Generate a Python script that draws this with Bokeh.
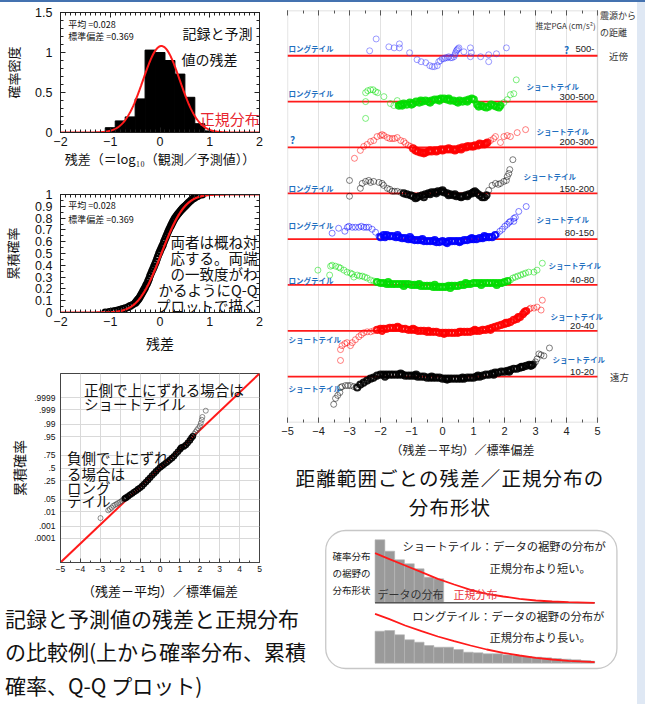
import numpy as np
from statistics import NormalDist
from bokeh.plotting import figure
from bokeh.layouts import row, column
from bokeh.models import (Range1d, LinearAxis, FixedTicker, Label, Div, BoxAnnotation,
                          Slope, CustomJSTickFormatter)
from bokeh.embed import file_html
from bokeh.resources import INLINE

JP = "Noto Sans CJK JP"
NUM = "Liberation Sans"

# ---------------- data ----------------
MEAN = 0.028
SD = 0.369
HIST_EDGES = [-1.1, -0.9, -0.7, -0.5, -0.3, -0.1, 0.1, 0.3, 0.5, 0.7, 0.9, 1.1]
HIST_DENS = [0.06, 0.145, 0.195, 0.42, 1.03, 1.0, 0.90, 0.73, 0.44, 0.11, 0.02]

ECDF = [(-1.10, 0.00), (-1.02, 0.005), (-0.95, 0.01), (-0.90, 0.013), (-0.85, 0.018), (-0.80, 0.024),
        (-0.75, 0.03), (-0.70, 0.037), (-0.65, 0.045), (-0.60, 0.055), (-0.55, 0.065), (-0.50, 0.08),
        (-0.48, 0.09), (-0.46, 0.10), (-0.44, 0.11), (-0.42, 0.12), (-0.40, 0.135), (-0.38, 0.15),
        (-0.36, 0.165), (-0.34, 0.18), (-0.32, 0.195), (-0.30, 0.21), (-0.28, 0.23), (-0.26, 0.245),
        (-0.24, 0.265), (-0.22, 0.285), (-0.20, 0.31), (-0.18, 0.33), (-0.16, 0.35), (-0.14, 0.37),
        (-0.12, 0.39), (-0.10, 0.41), (-0.08, 0.43), (-0.06, 0.455), (-0.04, 0.478), (-0.02, 0.50),
        (0.00, 0.52), (0.02, 0.54), (0.04, 0.558), (0.06, 0.575), (0.08, 0.60), (0.10, 0.62), (0.12, 0.64),
        (0.14, 0.66), (0.16, 0.68), (0.18, 0.70), (0.20, 0.718), (0.22, 0.735), (0.24, 0.752), (0.26, 0.77),
        (0.28, 0.785), (0.30, 0.80), (0.325, 0.815), (0.35, 0.83), (0.375, 0.843), (0.40, 0.855),
        (0.425, 0.868), (0.45, 0.88), (0.475, 0.89), (0.50, 0.90), (0.525, 0.91), (0.55, 0.92),
        (0.575, 0.93), (0.60, 0.94), (0.625, 0.95), (0.65, 0.96), (0.675, 0.968), (0.70, 0.975),
        (0.75, 0.985), (0.80, 0.995), (0.85, 1.0)]

QQ = [(-2.99, -2.65), (-2.60, -2.24), (-2.52, -2.17), (-2.43, -2.10), (-2.35, -2.00), (-2.26, -1.95),
      (-2.18, -1.90), (-2.10, -1.85), (-2.01, -1.80), (-1.93, -1.74), (-1.85, -1.68), (-1.77, -1.62),
      (-1.70, -1.57), (-1.60, -1.50), (-1.50, -1.42), (-1.40, -1.35), (-1.30, -1.27), (-1.20, -1.20),
      (-1.10, -1.12), (-1.00, -1.05), (-0.90, -0.96), (-0.80, -0.85), (-0.70, -0.74), (-0.60, -0.63),
      (-0.50, -0.52), (-0.40, -0.40), (-0.30, -0.29), (-0.20, -0.18), (-0.10, -0.08), (0.00, 0.02),
      (0.10, 0.10), (0.20, 0.18), (0.30, 0.26), (0.40, 0.34), (0.50, 0.43), (0.60, 0.52), (0.70, 0.62),
      (0.80, 0.74), (0.90, 0.86), (1.00, 0.98), (1.05, 1.06), (1.10, 1.10), (1.20, 1.14), (1.30, 1.22),
      (1.40, 1.33), (1.50, 1.46), (1.58, 1.58), (1.65, 1.68), (1.72, 1.80), (1.78, 1.90), (1.85, 2.00),
      (1.92, 2.10), (2.00, 2.22), (2.05, 2.38), (2.10, 2.55), (2.13, 2.70), (2.30, 3.03)]
Q_PROBS = [0.0001, 0.001, 0.01, 0.05, 0.25, 0.5, 0.75, 0.95, 0.99, 0.999, 0.9999]
Q_LABELS = [".0001", ".001", ".01", ".05", ".25", ".5", ".75", ".95", ".99", ".999", ".9999"]

# residual deviation per distance range: (normalized residual, deviation)
G500 = [(-2.35, 5), (-2.14, 17), (-1.73, 9), (-1.56, 8), (-1.39, 8), (-1.39, 12), (-1.06, 3), (-0.82, -4),
        (-0.69, -6), (-0.54, -7), (-0.41, -10), (-0.33, -11), (-0.26, -11), (-0.17, -10), (-0.12, -6),
        (-0.07, -5), (-0.01, -3), (0.05, -3), (0.10, -2), (0.16, -2), (0.20, -1), (0.26, -2), (0.31, -2),
        (0.37, -1), (0.40, 1), (0.42, 3), (0.45, 5), (0.47, 6), (0.50, 7), (0.53, 8), (0.69, 4), (0.90, 8),
        (0.93, 3), (0.90, -1), (1.23, -1), (1.49, 1), (1.49, -6), (1.74, 2), (2.06, 8)]
G300 = [(-2.48, -17), (-2.48, 0), (-2.48, 9), (-2.41, 11), (-2.32, 12), (-2.24, 12), (-2.16, 10), (-2.09, 9),
        (-1.89, 5), (-1.68, -2), (-1.57, -4), (-1.46, 1), (-1.41, -4), (-1.35, -3), (-1.30, -4), (-1.25, -2),
        (-1.15, -3), (-1.05, -1), (-1.00, -3), (-0.95, -2), (-0.85, 0), (-0.75, -1), (-0.70, 1), (-0.65, 0),
        (-0.55, 1), (-0.45, 0), (-0.40, -1), (-0.35, 1), (-0.25, 2), (-0.15, 2), (-0.10, 1), (-0.05, 3),
        (0.05, 3), (0.15, 2), (0.20, 3), (0.25, 1), (0.35, 1), (0.45, 0), (0.50, -1), (0.55, 1), (0.65, 0),
        (0.75, 1), (0.80, 0), (0.85, 2), (0.95, 3), (1.01, 2), (1.12, -3), (1.17, -5), (1.25, -4), (1.33, -5),
        (1.41, -6), (1.49, -5), (1.57, -3), (1.66, -4), (1.74, -5), (1.82, -6), (1.87, -4), (1.98, -1),
        (2.09, 2), (2.19, 7), (2.30, 8), (2.38, 22)]
G200 = [(-2.84, -11), (-2.65, -3), (-2.54, 1), (-2.43, 3), (-2.32, 6), (-2.22, 7), (-2.11, 11), (-2.00, 12),
        (-1.95, 13), (-1.89, 12), (-1.78, 10), (-1.70, 9), (-1.62, 9), (-1.55, 9), (-1.46, 10), (-1.35, 7),
        (-1.25, 6), (-1.19, 4), (-1.10, 2), (-1.03, 1), (-0.95, -1), (-0.87, -3), (-0.80, -4), (-0.71, -5),
        (-0.65, -5), (-0.60, -6), (-0.55, -5), (-0.45, -4), (-0.40, -3), (-0.35, -4), (-0.25, -3), (-0.20, -4),
        (-0.15, -3), (-0.05, -2), (0.00, -3), (0.05, -2), (0.15, -2), (0.20, -1), (0.25, -2), (0.35, -2),
        (0.40, -3), (0.45, -2), (0.55, -1), (0.60, -2), (0.65, 0), (0.75, 0), (0.80, 1), (0.85, 1), (0.95, 1),
        (1.00, 1), (1.05, 2), (1.15, 2), (1.20, 4), (1.25, 3), (1.35, 3), (1.40, 4), (1.45, 5), (1.55, 7),
        (1.65, 9), (1.71, 11), (1.87, 5), (1.98, 11), (2.09, 12), (2.19, 11), (2.41, 15), (2.68, 18)]
G150 = [(-3.00, 13), (-3.00, -3), (-2.65, 5), (-2.59, 10), (-2.48, 12), (-2.38, 13), (-2.32, 11), (-2.22, 12),
        (-2.05, 11), (-1.95, 10), (-1.90, 8), (-1.78, 5), (-1.70, 4), (-1.62, 2), (-1.55, 2), (-1.46, 2),
        (-1.35, 1), (-1.25, 0), (-1.15, -1), (-1.03, -2), (-0.95, -3), (-0.87, -5), (-0.82, -4), (-0.75, -3),
        (-0.65, -2), (-0.60, -4), (-0.55, -1), (-0.45, 0), (-0.40, -1), (-0.35, 1), (-0.25, 1), (-0.20, 0),
        (-0.15, 2), (-0.05, 2), (0.00, 3), (0.05, 1), (0.15, 0), (0.20, -2), (0.25, -1), (0.35, -2), (0.40, -1),
        (0.45, -3), (0.55, -3), (0.60, -4), (0.65, -3), (0.75, -2), (0.80, -3), (0.85, -1), (0.95, 0), (1.00, 1),
        (1.05, 2), (1.12, 0), (1.20, -2), (1.28, -4), (1.35, -4), (1.42, -2), (1.49, 3), (1.60, 8), (1.71, 10),
        (1.80, 9), (1.87, 10), (1.98, 12), (2.06, 13), (2.09, 17), (2.14, 20), (2.17, 24), (2.27, 34)]
G80 = [(-3.56, 6), (-3.35, 11), (-3.15, 8), (-3.07, 12), (-3.02, 13), (-2.91, 12), (-2.81, 12), (-2.70, 12),
       (-2.62, 13), (-2.54, 12), (-2.46, 12), (-2.38, 12), (-2.27, 10), (-2.16, 7), (-2.05, 3), (-2.00, 2),
       (-1.90, 4), (-1.85, 2), (-1.80, 4), (-1.70, 3), (-1.60, 3), (-1.50, 2), (-1.45, 4), (-1.40, 2), (-1.30, 1),
       (-1.20, 1), (-1.10, 0), (-1.05, 2), (-1.00, 0), (-0.90, -1), (-0.80, -1), (-0.70, -1), (-0.65, 0),
       (-0.60, -2), (-0.50, -2), (-0.40, -2), (-0.30, -2), (-0.25, -1), (-0.20, -3), (-0.10, -3), (0.00, -2),
       (0.10, -3), (0.15, -4), (0.20, -2), (0.30, -2), (0.40, -2), (0.50, -2), (0.55, -3), (0.60, -2), (0.70, -1),
       (0.80, -1), (0.90, 0), (0.95, 1), (1.00, 0), (1.10, 0), (1.20, 1), (1.30, 1), (1.35, 3), (1.40, 2),
       (1.50, 2), (1.60, 2), (1.70, 4), (1.76, 5), (1.85, 8), (1.93, 10), (2.01, 13), (2.09, 15), (2.15, 17),
       (2.19, 18), (2.30, 21), (2.30, 18), (2.35, 22), (2.46, 28), (2.70, 33)]
G40 = [(-4.02, 15), (-3.64, 10), (-3.61, 19), (-3.56, 20), (-3.45, 19), (-3.35, 18), (-3.29, 17), (-3.18, 15),
       (-3.08, 13), (-2.97, 12), (-2.91, 11), (-2.86, 8), (-2.75, 10), (-2.67, 9), (-2.59, 9), (-2.51, 8),
       (-2.43, 7), (-2.32, 5), (-2.22, 4), (-2.11, 3), (-2.00, 2), (-1.90, 2), (-1.80, 1), (-1.75, 3), (-1.70, 1),
       (-1.60, 1), (-1.50, 1), (-1.40, 1), (-1.30, 1), (-1.25, -1), (-1.20, 1), (-1.10, 1), (-1.00, 0),
       (-0.90, 0), (-0.80, 0), (-0.75, 1), (-0.70, -1), (-0.60, -1), (-0.50, -1), (-0.40, -1), (-0.30, -2),
       (-0.25, 0), (-0.20, -2), (-0.10, -2), (0.00, -2), (0.10, -2), (0.20, -1), (0.25, -3), (0.30, -1),
       (0.40, -1), (0.50, -1), (0.60, 0), (0.70, 0), (0.75, 2), (0.80, 1), (0.90, 1), (1.00, 2), (1.10, 2),
       (1.20, 2), (1.25, 0), (1.30, 2), (1.40, 2), (1.50, 2), (1.60, 2), (1.70, 2), (1.75, 0), (1.80, 2),
       (1.90, 2), (2.00, 3), (2.10, 4), (2.19, 5), (2.27, 7), (2.35, 8), (2.43, 9), (2.52, 10), (2.60, 11),
       (2.68, 12), (2.78, 13), (2.95, 13), (3.05, 15), (3.22, 22)]
G20 = [(-3.29, -30), (-3.29, -19), (-3.24, -15), (-3.15, -13), (-3.08, -12), (-2.97, -15), (-2.91, -12),
       (-2.81, -9), (-2.70, -6), (-2.62, -4), (-2.54, -2), (-2.43, -1), (-2.32, -1), (-2.22, 0), (-2.11, 1),
       (-2.00, 2), (-1.95, 0), (-1.90, 2), (-1.80, 2), (-1.70, 3), (-1.60, 3), (-1.50, 3), (-1.45, 4), (-1.40, 3),
       (-1.30, 2), (-1.20, 2), (-1.10, 1), (-1.00, 1), (-0.95, 2), (-0.90, 1), (-0.80, 0), (-0.70, 0), (-0.60, 0),
       (-0.50, -1), (-0.45, 0), (-0.40, -1), (-0.30, -1), (-0.20, -1), (-0.10, -2), (0.00, -2), (0.05, -3),
       (0.10, -2), (0.20, -2), (0.30, -2), (0.40, -2), (0.50, -2), (0.55, -1), (0.60, -1), (0.70, -1), (0.80, -1),
       (0.90, -1), (1.00, 0), (1.05, 1), (1.10, 0), (1.20, 0), (1.30, 1), (1.40, 1), (1.50, 2), (1.55, 1),
       (1.60, 3), (1.70, 4), (1.80, 5), (1.90, 6), (2.00, 7), (2.05, 8), (2.10, 8), (2.20, 9), (2.30, 11),
       (2.40, 12), (2.45, 14), (2.50, 14), (2.60, 17), (2.65, 19), (2.70, 20), (2.80, 22), (2.84, 23), (2.95, 23),
       (3.05, 24), (3.18, 21), (3.22, 31)]
G10 = [(-3.51, -28), (-3.45, -22), (-3.38, -19), (-3.31, -16), (-3.29, -11), (-3.24, -10), (-3.13, -9),
       (-3.05, -9), (-2.97, -9), (-2.86, -10), (-2.75, -11), (-2.65, -8), (-2.54, -6), (-2.43, -4), (-2.32, -2),
       (-2.22, -1), (-2.11, 1), (-2.00, 2), (-1.90, 2), (-1.85, 0), (-1.80, 2), (-1.70, 2), (-1.60, 2), (-1.50, 2),
       (-1.40, 2), (-1.35, 3), (-1.30, 2), (-1.20, 1), (-1.10, 1), (-1.00, 1), (-0.90, 1), (-0.85, 2), (-0.80, 0),
       (-0.70, 0), (-0.60, 0), (-0.50, -1), (-0.40, -1), (-0.35, 0), (-0.30, -1), (-0.20, -1), (-0.10, -1),
       (0.00, -2), (0.10, -2), (0.15, -3), (0.20, -2), (0.30, -2), (0.40, -2), (0.50, -2), (0.60, -2), (0.65, -1),
       (0.70, -2), (0.80, -1), (0.90, -1), (1.00, -1), (1.10, 0), (1.15, 1), (1.20, 0), (1.30, 1), (1.40, 2),
       (1.50, 2), (1.60, 3), (1.65, 2), (1.70, 4), (1.80, 4), (1.90, 5), (2.00, 5), (2.10, 6), (2.15, 5),
       (2.20, 7), (2.30, 8), (2.40, 8), (2.50, 9), (2.55, 10), (2.60, 10), (2.70, 11), (2.80, 12), (2.85, 11),
       (2.90, 12), (2.95, 13), (3.00, 15), (3.05, 18), (3.11, 23), (3.18, 22), (3.27, 21), (3.45, 29)]

GROUP_NAMES = ["500-", "300-500", "200-300", "150-200", "80-150", "40-80", "20-40", "10-20"]
GROUP_DATA = [G500, G300, G200, G150, G80, G40, G20, G10]
LEFT_TAGS = ["ロングテイル", "ロングテイル", "?", "ロングテイル", "ロングテイル", "ロングテイル", "ショートテイル", "ショートテイル"]
RIGHT_TAGS = ["?", "ショートテイル", "ショートテイル", "ショートテイル", "ショートテイル", "ショートテイル", "ショートテイル", "ショートテイル"]

# explanatory sketch (bottom-right box)
SHORT_BARS = [6.3, 5.16, 4.3, 3.9, 3.4, 2.56, 2.4]
LONG_BARS = [3.2, 3.27, 2.84, 2.34, 2.1, 1.77, 1.6, 1.6, 1.37, 1.1, 1.04, 0.94, 0.94, 0.84, 0.77, 0.67,
             0.6, 0.54, 0.47, 0.4, 0.34, 0.27, 0.2]
CURVE_X = [0, 1.4, 3.07, 4.74, 6.4, 8.07, 9.74, 11.4, 13.07, 14.74, 16.4, 18.07, 19.74, 22.4]
SHORT_CURVE = [4.96, 4.4, 3.73, 3.06, 2.4, 1.83, 1.3, 0.9, 0.63, 0.4, 0.23, 0.13, 0.07, 0.0]
LONG_CURVE = [4.94, 4.44, 3.77, 3.2, 2.67, 2.2, 1.77, 1.37, 1.04, 0.77, 0.54, 0.37, 0.24, 0.1]

OVERFLOW_CSS = ":host { overflow: visible !important; } div { overflow: visible !important; }"


# ---------------- helpers ----------------
def base_fig(w, h, xr, yr, bl, br, bt, bb, **kw):
    p = figure(width=w, height=h, x_range=Range1d(*xr), y_range=Range1d(*yr),
               output_backend="svg", toolbar_location=None,
               min_border_left=bl, min_border_right=br, min_border_top=bt, min_border_bottom=bb, **kw)
    p.background_fill_color = "white"
    p.border_fill_color = "white"
    p.xgrid.visible = False
    p.ygrid.visible = False
    p.outline_line_color = "#222"
    return p


def ticks_in(ax, color="#222", major=5, minor=3):
    ax.major_tick_in = major
    ax.major_tick_out = 0
    ax.minor_tick_in = minor
    ax.minor_tick_out = 0
    ax.axis_line_color = color
    ax.major_tick_line_color = color
    ax.minor_tick_line_color = color


def style_axis(ax, fs, lfs, std, lstd, color="#111"):
    ax.major_label_text_font = NUM
    ax.major_label_text_font_size = fs
    ax.major_label_text_color = color
    ax.axis_label_text_font = JP
    ax.axis_label_text_font_size = lfs
    ax.axis_label_text_font_style = "normal"
    ax.axis_label_text_color = color
    ax.major_label_standoff = std
    ax.axis_label_standoff = lstd


def mirror_axis(p, ticker, loc, color="#222"):
    ax = LinearAxis(ticker=ticker, formatter=CustomJSTickFormatter(code="return ''"))
    ax.major_label_text_font_size = "1px"
    ax.major_label_standoff = 0
    ticks_in(ax, color)
    p.add_layout(ax, loc)
    return ax


def lab(p, x, y, text, size, color="#111", font=JP, align="left", style="normal"):
    p.add_layout(Label(x=x, y=y, text=text, text_font_size=size, text_color=color, text_font=font,
                       text_align=align, text_baseline="middle", text_font_style=style))


RED = "#ff1a1a"

# ---------------- histogram ----------------
hist = base_fig(280, 168, (-2, 2), (0, 1.5), 60, 16, 10, 38)
hx = FixedTicker(ticks=[-2, -1, 0, 1, 2], minor_ticks=[round(-2 + 0.1 * i, 1) for i in range(41)])
hy = FixedTicker(ticks=[0, 0.5, 1, 1.5], minor_ticks=[round(0.1 * i, 1) for i in range(16)])
hist.xaxis.ticker = hx
hist.yaxis.ticker = hy
hist.yaxis.major_label_overrides = {0: "0", 1: "1"}
ticks_in(hist.xaxis[0]); ticks_in(hist.yaxis[0])
style_axis(hist.xaxis[0], "12.5px", "13px", 4, 0)
style_axis(hist.yaxis[0], "12.5px", "13px", 8, 9)
hist.xaxis.axis_label = "残差（＝log₁₀（観測／予測値））"
hist.yaxis.axis_label = "確率密度"
mirror_axis(hist, hx, "above")
mirror_axis(hist, hy, "right")
hist.quad(left=HIST_EDGES[:-1], right=HIST_EDGES[1:], bottom=0, top=HIST_DENS,
          fill_color="black", line_color="black")
nd = NormalDist(MEAN, SD)
xs = np.linspace(-2, 2, 401)
hist.line(xs, [nd.pdf(v) for v in xs], line_color=RED, line_width=2)
lab(hist, -1.843, 1.35, f"平均 ={MEAN:.3f}", "9px")
lab(hist, -1.843, 1.20, f"標準偏差 ={SD:.3f}", "9px")
lab(hist, 0.451, 1.25, "記録と予測", "14px")
lab(hist, 0.431, 0.925, "値の残差", "14px")
lab(hist, 0.80, 0.175, "正規分布", "15px", color="#e8252f")

# ---------------- cumulative ----------------
cdf = base_fig(280, 185, (-2, 2), (0, 1), 60, 16, 24, 40)
cx = FixedTicker(ticks=[-2, -1, 0, 1, 2], minor_ticks=[round(-2 + 0.1 * i, 1) for i in range(41)])
cy = FixedTicker(ticks=[round(0.1 * i, 1) for i in range(11)], minor_ticks=[round(0.05 * i, 2) for i in range(21)])
cdf.xaxis.ticker = cx
cdf.yaxis.ticker = cy
cdf.yaxis.major_label_overrides = {0: "0", 1: "1"}
ticks_in(cdf.xaxis[0]); ticks_in(cdf.yaxis[0])
style_axis(cdf.xaxis[0], "12.5px", "14px", 4, 4)
style_axis(cdf.yaxis[0], "12.5px", "13px", 8, 10)
cdf.xaxis.axis_label = "残差"
cdf.yaxis.axis_label = "累積確率"
mirror_axis(cdf, cx, "above")
mirror_axis(cdf, cy, "right")
cdf.scatter([p[0] for p in ECDF], [p[1] for p in ECDF], marker="circle", size=6,
            fill_color=None, line_color="black", line_width=1.8)
cdf.line(xs, [nd.cdf(v) for v in xs], line_color=RED, line_width=2.2)
lab(cdf, -1.843, 0.909, f"平均 ={MEAN:.3f}", "9px")
lab(cdf, -1.843, 0.785, f"標準偏差 ={SD:.3f}", "9px")
for txt, yy in zip(["両者は概ね対", "応する。両端", "の一致度がわ", "かるようにQ-Q", "プロットで描く"],
                   [0.603, 0.467, 0.331, 0.194, 0.058]):
    lab(cdf, 1.96, yy, txt, "14.5px", align="right")

# ---------------- Q-Q ----------------
qq = base_fig(280, 247, (-5, 5), (-5, 5), 58, 21, 18, 30)
qq.outline_line_color = "#444"
std_norm = NormalDist()
q_ticks = [std_norm.inv_cdf(pr) for pr in Q_PROBS]
qx = FixedTicker(ticks=list(range(-5, 6)), minor_ticks=[-5 + 0.5 * i for i in range(21)])
qy = FixedTicker(ticks=q_ticks, minor_ticks=[])
qq.xaxis.ticker = qx
qq.yaxis.ticker = qy
qq.yaxis.major_label_overrides = {t: l for t, l in zip(q_ticks, Q_LABELS)}
ticks_in(qq.xaxis[0], "#444", 4, 2); ticks_in(qq.yaxis[0], "#444", 0, 0)
style_axis(qq.xaxis[0], "8.5px", "13px", 3, 6)
style_axis(qq.yaxis[0], "8.5px", "14px", 5, 2)
qq.xaxis.axis_label = "（残差－平均）／標準偏差"
qq.yaxis.axis_label = "累積確率"
qq.xgrid.visible = True
qq.ygrid.visible = True
qq.xgrid.ticker = FixedTicker(ticks=list(range(-4, 5)))
qq.ygrid.ticker = qy
qq.xgrid.grid_line_color = "#d9d9d9"
qq.ygrid.grid_line_color = "#d9d9d9"
qq.add_layout(Slope(gradient=1, y_intercept=0, line_color=RED, line_width=2, level="underlay"))
QQ_CORE = (-1.8, 1.65)
core = [p for p in QQ if QQ_CORE[0] <= p[0] <= QQ_CORE[1]]
tail = [p for p in QQ if not (QQ_CORE[0] <= p[0] <= QQ_CORE[1])]
qq.scatter([p[0] for p in tail], [p[1] for p in tail], marker="circle", size=5,
           fill_color=None, line_color="#444", line_alpha=0.6, line_width=1)
qq.scatter([p[0] for p in core], [p[1] for p in core], marker="circle", size=5,
           fill_color=None, line_color="#000", line_alpha=0.95, line_width=1.6)
lab(qq, -3.82, 4.16, "正側で上にずれる場合は", "14.5px")
lab(qq, -3.82, 3.40, "ショートテイル", "14.5px")
for txt, yy in zip(["負側で上にずれ", "る場合は", "ロング", "テイル"], [0.54, -0.29, -1.05, -1.72]):
    lab(qq, -4.67, yy, txt, "14.5px")

left_text = Div(
    text="<div style=\"padding-left:5px;font-family:'Noto Sans CJK JP';font-size:21px;line-height:33.3px;"
         "color:#111;white-space:nowrap;\">記録と予測値の残差と正規分布<br>の比較例(上から確率分布、累積<br>"
         "確率、Q-Q プロット)</div>",
    width=280, height=102, margin=0, styles={"overflow": "visible"}, stylesheets=[OVERFLOW_CSS])

# ---------------- main panel ----------------
X_MIN, X_MAX = -5, 5
TOP = 417
# frame widened to the right so that the range labels outside the box can be drawn
main = figure(width=357, height=458, x_range=Range1d(X_MIN, X_MAX + 40 / 31), y_range=Range1d(0, TOP),
              output_backend="svg", toolbar_location=None, y_axis_location=None,
              min_border_left=7, min_border_right=0, min_border_top=8, min_border_bottom=33)
main.background_fill_color = "white"
main.border_fill_color = "white"
main.outline_line_color = None
main.ygrid.visible = False
mx = FixedTicker(ticks=list(range(-5, 6)), minor_ticks=[-5 + 0.5 * i for i in range(21)])
main.xaxis.ticker = mx
ticks_in(main.xaxis[0], "#555", 5, 3)
main.xaxis[0].axis_line_color = None
style_axis(main.xaxis[0], "11px", "12px", 4, 3, color="#222")
main.xaxis.axis_label = "（残差－平均）／標準偏差"
top_ax = mirror_axis(main, mx, "above", "#555")
top_ax.axis_line_color = None
main.xgrid.ticker = FixedTicker(ticks=list(range(-4, 5)))
main.xgrid.grid_line_color = "#e2e2e2"
main.add_layout(BoxAnnotation(left=X_MIN, right=X_MAX, bottom=0, top=TOP, fill_alpha=0,
                              line_color="#777", line_width=1.3))
main.add_layout(BoxAnnotation(left=X_MAX + 0.02, right=X_MAX + 40 / 31, bottom=0, top=TOP,
                              fill_color="white", fill_alpha=1, line_alpha=0, level="underlay"))

GAP = 46.4
COLORS = ["#3a3aff", "#00dd00", "#ff0000", "#000000", "#0000ff", "#00dd00", "#ff0000", "#000000"]
CORE = [None, (-1.45, 1.95), (-1.0, 1.5), (-1.3, 1.45), (-2.0, 1.7), (-2.2, 2.15), (-2.15, 2.7), (-2.8, 2.9)]
LEFT_DY = [7, 8, 8, 5, 14, 5, -9, -12]
RIGHT_POS = [(4.0, 6), (2.71, 15), (3.03, 16), (2.61, 17), (3.03, 20), (3.42, 20), (3.48, 14), (3.55, 17)]
NAME_DY = [7, 5, 5, 4, 6, 5, 5, 5]
TAG_BLUE = "#1f6fbf"
for i, (name, data, col) in enumerate(zip(GROUP_NAMES, GROUP_DATA, COLORS)):
    base = GAP * (len(GROUP_NAMES) - i)
    main.segment(x0=[X_MIN], y0=[base], x1=[X_MAX], y1=[base], line_color=RED, line_width=1.8)
    lo, hi = CORE[i] if CORE[i] else (99, -99)
    sp = [d for d in data if not (lo <= d[0] <= hi)]
    dn = [d for d in data if lo <= d[0] <= hi]
    main.scatter([d[0] for d in sp], [base + d[1] for d in sp], marker="circle", size=6,
                 fill_color=None, line_color=col, line_alpha=0.5, line_width=1)
    if dn:
        main.scatter([d[0] for d in dn], [base + d[1] for d in dn], marker="circle", size=6,
                     fill_color=None, line_color=col, line_alpha=0.9, line_width=2.2)
    ltag = LEFT_TAGS[i]
    if ltag == "?":
        lab(main, -4.84, base + LEFT_DY[i], ltag, "10px", color=TAG_BLUE, align="center", style="bold")
    else:
        lab(main, -4.97, base + LEFT_DY[i], ltag, "7.5px", color=TAG_BLUE, style="bold")
    rx, rdy = RIGHT_POS[i]
    rtag = RIGHT_TAGS[i]
    lab(main, rx, base + rdy, rtag, "10px" if rtag == "?" else "7.5px", color=TAG_BLUE,
        align="center" if rtag == "?" else "left", style="bold")
    lab(main, 4.90, base + NAME_DY[i], name, "9.5px", color="#222", font=NUM, align="right")

lab(main, 4.94, 402, "推定PGA (cm/s²)", "8px", color="#333", align="right")
lab(main, 5.08, 412, "震源から", "9px", color="#333")
lab(main, 5.08, 395, "の距離", "9px", color="#333")
lab(main, 5.68, GAP * 8, "近傍", "9.5px", color="#333", align="center")
lab(main, 5.71, GAP * 1, "遠方", "9.5px", color="#333", align="center")

title_div = Div(
    text="<div style=\"margin-left:15px;width:310px;text-align:center;font-family:'Noto Sans CJK JP';"
         "font-size:19.5px;letter-spacing:1.1px;line-height:28.5px;color:#111;padding-top:4px;"
         "white-space:nowrap;\">距離範囲ごとの残差／正規分布の<br>分布形状</div>",
    width=357, height=60, margin=0)

# ---------------- explanatory box ----------------
box = figure(width=357, height=184, x_range=Range1d(-8.93, 26.77), y_range=Range1d(-4.13, 14.27),
             output_backend="svg", toolbar_location=None, x_axis_location=None, y_axis_location=None,
             min_border=0, min_border_left=0, min_border_right=0, min_border_top=0, min_border_bottom=0)
box.outline_line_color = None
box.xgrid.visible = False
box.ygrid.visible = False
box.background_fill_alpha = 0
box.border_fill_alpha = 0
SHORT_BASE = 6.04
LONG_BASE = 0.0
box.add_layout(BoxAnnotation(left=-5.03, right=24.67, bottom=-0.53, top=13.27, fill_alpha=0,
                             line_color="#444", line_width=1.3, border_radius=20))
box.quad(left=list(range(len(SHORT_BARS))), right=[i + 1 for i in range(len(SHORT_BARS))],
         bottom=SHORT_BASE, top=[SHORT_BASE + h for h in SHORT_BARS],
         fill_color="#9a9a9a", line_color="#b5b5b5", line_width=0.6)
box.quad(left=list(range(len(LONG_BARS))), right=[min(i + 1, 22.4) for i in range(len(LONG_BARS))],
         bottom=LONG_BASE, top=[LONG_BASE + h for h in LONG_BARS],
         fill_color="#9a9a9a", line_color="#b5b5b5", line_width=0.6)
box.segment(x0=[0], y0=[SHORT_BASE], x1=[CURVE_X[-1]], y1=[SHORT_BASE], line_color="#555", line_width=1.4)
box.line(CURVE_X, [SHORT_BASE + v for v in SHORT_CURVE], line_color=RED, line_width=1.8)
box.line(CURVE_X, [LONG_BASE + v for v in LONG_CURVE], line_color=RED, line_width=1.8)
lab(box, -4.33, 10.77, "確率分布", "9.5px", color="#222")
lab(box, -4.33, 9.07, "の裾野の", "9.5px", color="#222")
lab(box, -4.33, 7.32, "分布形状", "9.5px", color="#222")
lab(box, 2.8, 11.77, "ショートテイル：データの裾野の分布が", "11.3px", color="#222")
lab(box, 11.67, 9.5, "正規分布より短い。", "11.3px", color="#222")
lab(box, 0.24, 6.94, "データの分布", "11px", color="#333")
lab(box, 8.0, 6.94, "正規分布", "11px", color="#e8303a")
lab(box, 3.8, 4.77, "ロングテイル：データの裾野の分布が", "11.3px", color="#222")
lab(box, 11.67, 2.6, "正規分布より長い。", "11.3px", color="#222")

# ---------------- page frame ----------------
top_line = Div(text="", width=645, height=2, margin=0, styles={"background-color": "#4472b0"})
strip = Div(text="", width=8, height=702, margin=0, styles={"background-color": "#dfe8f4"})

left_col = column(hist, cdf, qq, left_text, spacing=0, stylesheets=[OVERFLOW_CSS])
right_col = column(main, title_div, box, spacing=0)
layout = column(top_line, row(left_col, right_col, strip, spacing=0, stylesheets=[OVERFLOW_CSS]),
                spacing=0, stylesheets=[OVERFLOW_CSS])

open("out.html", "w").write(file_html(layout, INLINE))
